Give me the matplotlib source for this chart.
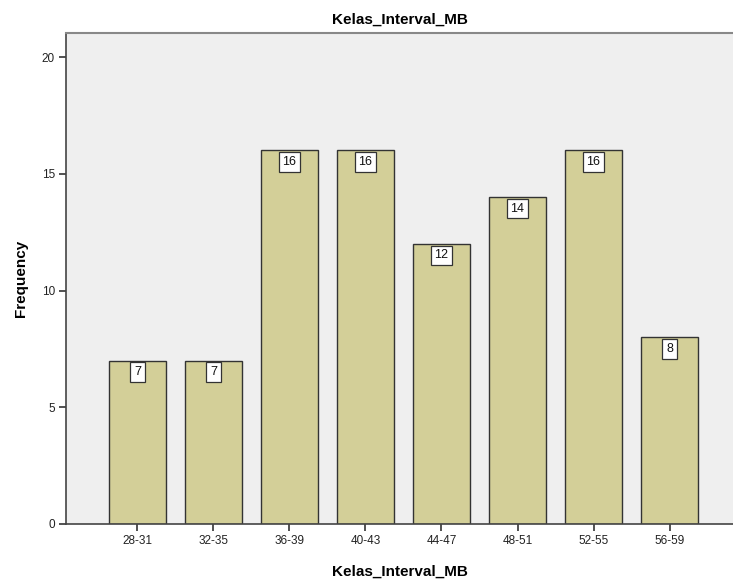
import matplotlib
matplotlib.use("Agg")
import matplotlib.pyplot as plt
import numpy as np

plt.rcParams['font.family'] = ['Liberation Sans', 'DejaVu Sans']

# data
categories = ["28-31", "32-35", "36-39", "40-43", "44-47", "48-51", "52-55", "56-59"]
frequency = [7, 7, 16, 16, 12, 14, 16, 8]
y_ticks = [0, 5, 10, 15, 20]

fig = plt.figure(figsize=(7.33, 5.83), dpi=100)
ax = fig.add_axes([66 / 733, 1 - 524 / 583, 1 - 66 / 733, (524 - 33) / 583])
ax.set_facecolor("#EFEFEF")

xs = np.arange(len(categories))
ax.bar(xs, frequency, width=0.75, color="#D3CF98", edgecolor="#333333", linewidth=1.0, zorder=2)

for x, v in zip(xs, frequency):
    ax.annotate(str(v), xy=(x, v), xytext=(0, -4), textcoords="offset points",
                ha="center", va="top", fontsize=9, color="#111111", zorder=3,
                bbox=dict(boxstyle="square,pad=0.3", facecolor="white", edgecolor="#333333", linewidth=0.9))

ax.set_xlim(-0.94, 7.835)
ax.set_ylim(0, 21.03)
ax.set_xticks(xs)
ax.set_xticklabels(categories)
ax.set_yticks(y_ticks)
ax.tick_params(axis="both", length=5, width=1.2, color="#333333", labelsize=8.5, labelcolor="#222222", pad=3)

for s in ["left", "bottom"]:
    ax.spines[s].set_color("#444444")
    ax.spines[s].set_linewidth(1.2)
ax.spines["top"].set_color("#888888")
ax.spines["top"].set_linewidth(1.5)
ax.spines["right"].set_visible(False)

ax.set_title("Kelas_Interval_MB", fontsize=11, fontweight="bold", pad=7)
ax.set_xlabel("Kelas_Interval_MB", fontsize=11, fontweight="bold", labelpad=13)
ax.set_ylabel("Frequency", fontsize=11, fontweight="bold", labelpad=10)

fig.savefig("out.png", dpi=100)
